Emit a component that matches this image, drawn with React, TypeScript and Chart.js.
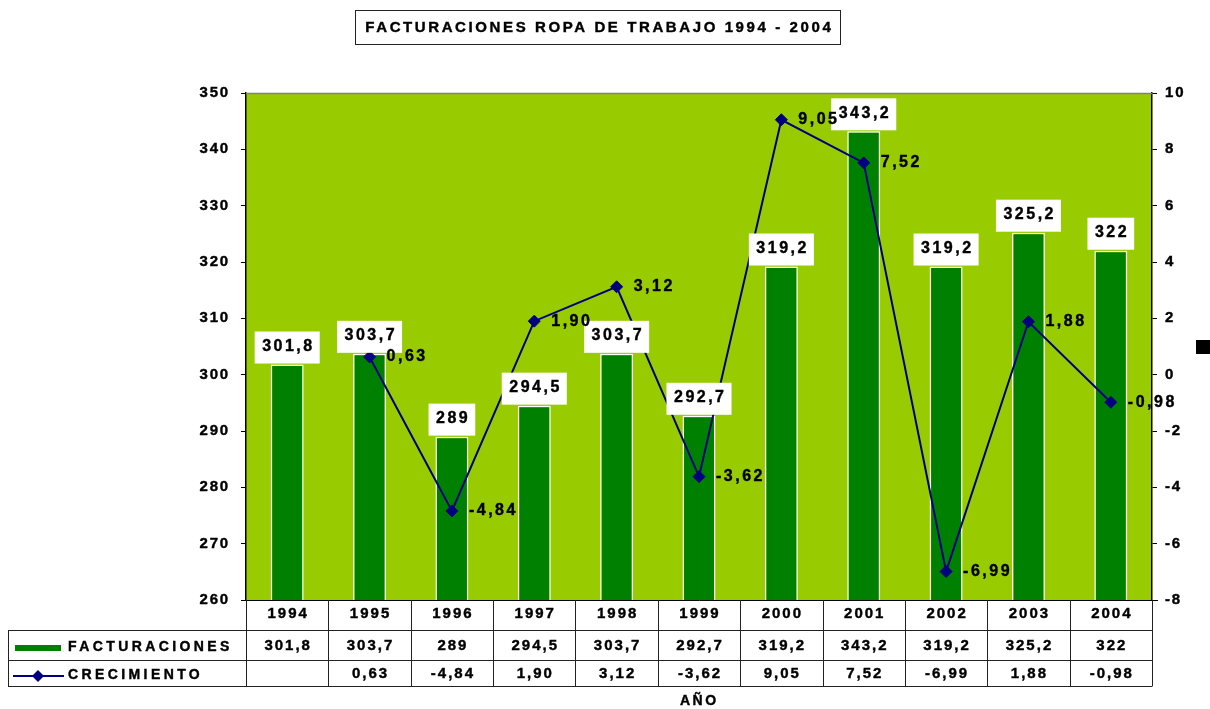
import React, { useEffect, useRef } from "react";
import { Chart, registerables } from "chart.js";

Chart.register(...registerables);

const years = ["1994", "1995", "1996", "1997", "1998", "1999", "2000", "2001", "2002", "2003", "2004"];
const facturaciones = [301.8, 303.7, 289, 294.5, 303.7, 292.7, 319.2, 343.2, 319.2, 325.2, 322];
const crecimiento: (number | null)[] = [null, 0.63, -4.84, 1.9, 3.12, -3.62, 9.05, 7.52, -6.99, 1.88, -0.98];
const leftTicks = { min: 260, max: 350, step: 10 };
const rightTicks = { min: -8, max: 10, step: 2 };
const title = "FACTURACIONES ROPA DE TRABAJO 1994 - 2004";
const seriesNames = ["FACTURACIONES", "CRECIMIENTO"];
const axisTitle = "AÑO";

const FONT = "'Liberation Sans', Arial, sans-serif";
const BAR_COLOR = "#008000";
const LINE_COLOR = "#000080";
const PLOT_BG = "#99CC00";
const STROKE = 0.4;

const fmtFact = (v: number) => String(v).replace(".", ",");
const fmtCrec = (v: number | null) => (v === null ? "" : v.toFixed(2).replace(".", ","));

function text(ctx: CanvasRenderingContext2D, s: string, x: number, y: number, align: CanvasTextAlign, ls = 2.5, size = 15) {
  ctx.save();
  (ctx as any).letterSpacing = ls + "px";
  ctx.font = `bold ${size}px ${FONT}`;
  ctx.fillStyle = "#000";
  ctx.strokeStyle = "#000";
  ctx.lineWidth = STROKE;
  ctx.textBaseline = "middle";
  ctx.textAlign = align;
  let dx = 0;
  if (align === "center") dx = ls / 2;
  if (align === "right") dx = ls;
  ctx.fillText(s, x + dx, y);
  ctx.strokeText(s, x + dx, y);
  ctx.restore();
}

function measure(ctx: CanvasRenderingContext2D, s: string, ls: number, size: number) {
  ctx.save();
  (ctx as any).letterSpacing = ls + "px";
  ctx.font = `bold ${size}px ${FONT}`;
  const w = ctx.measureText(s).width - ls;
  ctx.restore();
  return w;
}

const decorPlugin = {
  id: "decor",
  beforeDraw(chart: any) {
    const { ctx, chartArea: a } = chart;
    ctx.save();
    ctx.fillStyle = "#fff";
    ctx.fillRect(0, 0, chart.width, chart.height);
    ctx.fillStyle = PLOT_BG;
    ctx.fillRect(a.left, a.top, a.right - a.left, a.bottom - a.top);
    ctx.restore();
    (ctx as any).letterSpacing = "1.8px";
  },
  afterDatasetsDraw(chart: any) {
    const { ctx } = chart;
    const lineMeta = chart.getDatasetMeta(0);
    const barMeta = chart.getDatasetMeta(1);
    // bar label boxes
    barMeta.data.forEach((bar: any, i: number) => {
      const s = fmtFact(facturaciones[i]);
      const w = measure(ctx, s, 2.5, 16) + 15;
      const h = 32;
      const bottom = bar.y - 1;
      ctx.save();
      ctx.fillStyle = "#fff";
      ctx.fillRect(bar.x - w / 2, bottom - h, w, h);
      ctx.restore();
      text(ctx, s, bar.x, bottom - h / 2 - 1, "center", 2.5, 16);
    });
    // line labels
    lineMeta.data.forEach((pt: any, i: number) => {
      const v = crecimiento[i];
      if (v === null) return;
      text(ctx, fmtCrec(v), pt.x + 17, pt.y, "left", 2.5, 16);
    });
  },
  afterDraw(chart: any) {
    const { ctx, chartArea: a } = chart;
    const xs = chart.scales.x;
    const n = years.length;
    const cw = (a.right - a.left) / n;
    ctx.save();
    (ctx as any).letterSpacing = "0px";
    // top gray border
    ctx.strokeStyle = "#808080";
    ctx.lineWidth = 1.5;
    ctx.beginPath();
    ctx.moveTo(a.left, a.top + 0.5);
    ctx.lineTo(a.right, a.top + 0.5);
    ctx.stroke();
    // bottom axis line
    ctx.strokeStyle = "#000";
    ctx.lineWidth = 1;
    ctx.beginPath();
    ctx.moveTo(a.left - 5, a.bottom + 0.5);
    ctx.lineTo(a.right + 6, a.bottom + 0.5);
    ctx.stroke();
    // table lines
    const rowY = [a.bottom, 630, 660, 686];
    ctx.strokeStyle = "#222";
    ctx.beginPath();
    for (let k = 1; k < rowY.length; k++) {
      ctx.moveTo(8, rowY[k] + 0.5);
      ctx.lineTo(a.right, rowY[k] + 0.5);
    }
    for (let i = 0; i <= n; i++) {
      const x = Math.round(a.left + i * cw) + 0.5;
      ctx.moveTo(x, a.bottom);
      ctx.lineTo(x, rowY[3] + 0.5);
    }
    ctx.moveTo(8.5, rowY[1]);
    ctx.lineTo(8.5, rowY[3] + 0.5);
    ctx.stroke();
    // legend keys
    ctx.fillStyle = BAR_COLOR;
    ctx.fillRect(15, 645, 46, 6);
    ctx.strokeStyle = LINE_COLOR;
    ctx.lineWidth = 2;
    ctx.beginPath();
    ctx.moveTo(13, 676);
    ctx.lineTo(64, 676);
    ctx.stroke();
    ctx.fillStyle = LINE_COLOR;
    ctx.beginPath();
    ctx.moveTo(38, 670);
    ctx.lineTo(44, 676);
    ctx.lineTo(38, 682);
    ctx.lineTo(32, 676);
    ctx.closePath();
    ctx.fill();
    // black square
    ctx.fillStyle = "#000";
    ctx.fillRect(1196, 340, 14, 14);
    // title box
    ctx.strokeStyle = "#222";
    ctx.lineWidth = 1;
    ctx.strokeRect(355.5, 10.5, 485, 34);
    ctx.restore();

    text(ctx, title, 598, 28, "center", 2.6, 15);
    text(ctx, seriesNames[0], 68, 647, "left", 3.4, 14);
    text(ctx, seriesNames[1], 68, 675, "left", 3.4, 14);
    years.forEach((y, i) => {
      const cx = xs.getPixelForValue(i);
      text(ctx, y, cx, 614, "center", 2, 15);
      text(ctx, fmtFact(facturaciones[i]), cx, 646, "center", 2, 15);
      text(ctx, fmtCrec(crecimiento[i]), cx, 674, "center", 2, 15);
    });
    text(ctx, axisTitle, 698, 701, "center", 2.5, 14);
  },
};

export default function App() {
  const ref = useRef<HTMLCanvasElement | null>(null);
  useEffect(() => {
    if (!ref.current) return;
    const chart = new Chart(ref.current, {
      type: "bar",
      data: {
        labels: years,
        datasets: [
          {
            type: "line",
            label: seriesNames[1],
            data: crecimiento,
            yAxisID: "y1",
            borderColor: LINE_COLOR,
            backgroundColor: LINE_COLOR,
            borderWidth: 2,
            pointStyle: "rectRot",
            pointRadius: 6,
            pointBorderWidth: 1,
            pointBackgroundColor: LINE_COLOR,
            pointBorderColor: LINE_COLOR,
            spanGaps: true,
            tension: 0,
            order: 0,
          } as any,
          {
            type: "bar",
            label: seriesNames[0],
            data: facturaciones,
            yAxisID: "y",
            backgroundColor: BAR_COLOR,
            borderColor: "#ffffff",
            borderWidth: 1.5,
            barPercentage: 0.4,
            categoryPercentage: 1,
            order: 1,
          } as any,
        ],
      },
      options: {
        responsive: false,
        animation: false,
        devicePixelRatio: 1,
        layout: { padding: { left: 0, right: 0, top: 93, bottom: 109 } },
        plugins: { legend: { display: false }, tooltip: { enabled: false }, title: { display: false } },
        scales: {
          x: { display: false, offset: true },
          y: {
            position: "left",
            min: leftTicks.min,
            max: leftTicks.max,
            ticks: {
              stepSize: leftTicks.step, color: "#000", padding: 11,
              textStrokeColor: "#000", textStrokeWidth: STROKE,
              font: { family: FONT, size: 15, weight: "bold" },
            },
            grid: { drawOnChartArea: false, drawTicks: true, tickLength: 5, color: "#000" },
            border: { display: true, color: "#000", width: 1.5 },
            afterFit: (s: any) => { s.width = 246; },
          },
          y1: {
            position: "right",
            min: rightTicks.min,
            max: rightTicks.max,
            ticks: {
              stepSize: rightTicks.step, color: "#000", padding: 8,
              textStrokeColor: "#000", textStrokeWidth: STROKE,
              font: { family: FONT, size: 15, weight: "bold" },
            },
            grid: { drawOnChartArea: false, drawTicks: true, tickLength: 5, color: "#000" },
            border: { display: true, color: "#000", width: 1.5 },
            afterFit: (s: any) => { s.width = 58; },
          },
        },
      } as any,
      plugins: [decorPlugin],
    });
    return () => chart.destroy();
  }, []);
  return (
    <div style={{ position: "absolute", left: 0, top: 0, width: 1210, height: 709 }}>
      <canvas ref={ref} width={1210} height={709} style={{ width: 1210, height: 709, display: "block" }} />
    </div>
  );
}
